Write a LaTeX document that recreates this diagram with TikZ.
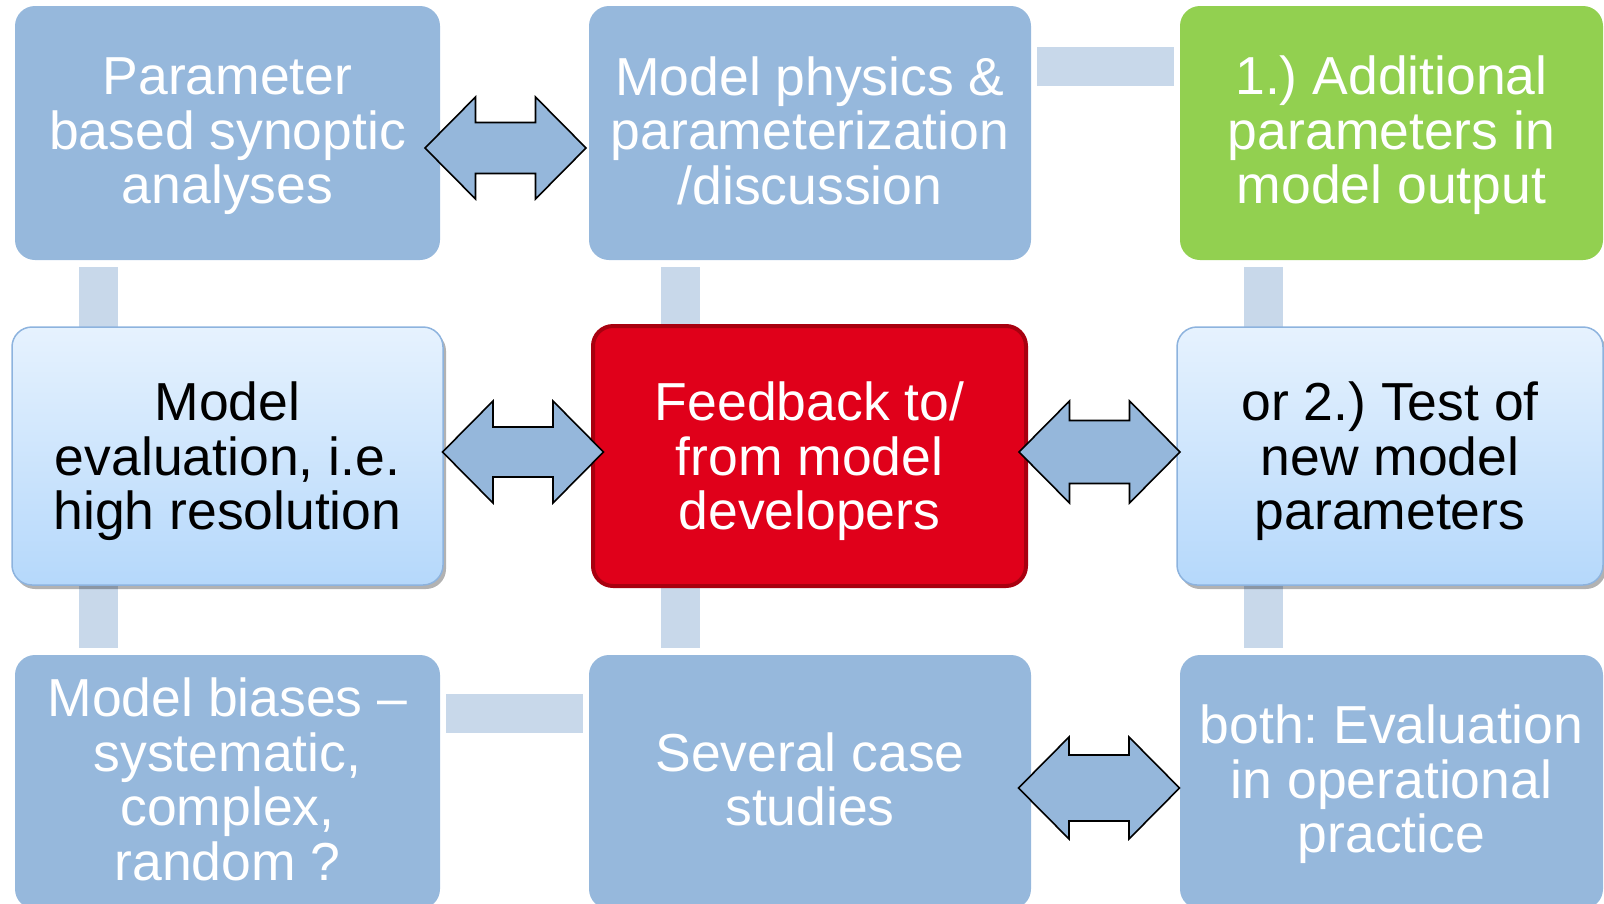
\documentclass[tikz,border=0pt]{standalone}
\usepackage{fontspec}
\setmainfont{Liberation Sans}
\usetikzlibrary{calc,shadows}
\definecolor{boxblue}{HTML}{96B8DC}
\definecolor{barblue}{HTML}{C8D8EA}
\definecolor{arrblue}{HTML}{95B7DB}
\definecolor{boxgreen}{HTML}{92D050}
\definecolor{boxred}{HTML}{E0001A}
\definecolor{redborder}{HTML}{A8000F}
\definecolor{lighttop}{HTML}{E6F2FE}
\definecolor{lightbot}{HTML}{B5D8FB}
\definecolor{lightborder}{HTML}{8DB3DE}
\pgfdeclarelayer{background}
\pgfsetlayers{background,main}
\frenchspacing
\newcommand\ts{\rule{0pt}{44pt}}
\newcommand\tsm{\rule{0pt}{50pt}}
\newcommand\bs{\rule[-11pt]{0pt}{11pt}}
\newcommand\dblarrow[2]{%
 \draw[dbl] ($(#1)+(-80.5,0)$) -- ($(#1)+(-30,-51)$) -- ($(#1)+(-30,-#2)$) -- ($(#1)+(30,-#2)$) -- ($(#1)+(30,-51)$) -- ($(#1)+(80.5,0)$) -- ($(#1)+(30,51)$) -- ($(#1)+(30,#2)$) -- ($(#1)+(-30,#2)$) -- ($(#1)+(-30,51)$) -- cycle;}
\begin{document}
\begin{tikzpicture}[x=1pt,y=-1pt,
 boxbase/.style={rounded corners=20pt, minimum height=254pt, inner sep=0pt, outer sep=0pt, align=center, font=\fontsize{53.5}{54.5}\selectfont\frenchspacing},
 bluebox/.style={boxbase, fill=boxblue, text=white},
 greenbox/.style={boxbase, fill=boxgreen, text=white},
 lightbox/.style={boxbase, minimum height=258pt, top color=lighttop, bottom color=lightbot, draw=lightborder, line width=1.5pt, text=black, drop shadow={shadow xshift=3pt, shadow yshift=-4pt, opacity=0.3, fill=black}},
 redbox/.style={boxbase, minimum height=260pt, fill=boxred, draw=redborder, line width=4pt, text=white},
 bar/.style={draw=barblue, line width=39pt},
 dbl/.style={fill=arrblue, draw=black, line width=1.6pt, line join=miter}
]
\useasboundingbox (0,0) rectangle (1604,903);
\clip (0,0) rectangle (1604,903);

\node[bluebox, minimum width=425pt] (A) at (227.5,133) {\ts Parameter\\based synoptic\\analyses\bs};
\node[bluebox, minimum width=442pt] (B) at (810,133) {\ts Model physics \&\\parameterization\\/discussion\bs};
\node[greenbox, minimum width=423pt] (C) at (1391.5,133) {\ts 1.) Additional\\parameters in\\model output\bs};
\node[lightbox, minimum width=431pt] (D) at (227.5,456) {\tsm Model\\evaluation, i.e.\\high resolution\bs};
\node[redbox, minimum width=433pt] (E) at (809.5,456) {\tsm Feedback to/\\from model\\developers\bs};
\node[lightbox, minimum width=426pt] (F) at (1390,456) {\tsm or 2.) Test of\\new model\\parameters\bs};
\node[bluebox, minimum width=425pt] (G) at (227.5,782) {\ts Model biases \textendash\\systematic,\\complex,\\random ?\bs};
\node[bluebox, minimum width=442pt] (H) at (810,782) {\ts Several case\\studies\bs};
\node[bluebox, minimum width=423pt] (I) at (1391.5,782) {\ts both: Evaluation\\in operational\\practice\bs};

\coordinate (colL) at (98.5,0);
\coordinate (colM) at (680.5,0);
\coordinate (colR) at (1263.5,0);
\coordinate (rowT) at (0,66.5);
\coordinate (rowB) at (0,713.5);

\begin{pgfonlayer}{background}
\draw[bar] ($(A.south -| colL)+(0,7)$) -- (D.north -| colL);
\draw[bar] (D.south -| colL) -- ($(G.north -| colL)+(0,-7)$);
\draw[bar] ($(B.south -| colM)+(0,7)$) -- (E.north -| colM);
\draw[bar] (E.south -| colM) -- ($(H.north -| colM)+(0,-7)$);
\draw[bar] ($(C.south -| colR)+(0,7)$) -- (F.north -| colR);
\draw[bar] (F.south -| colR) -- ($(I.north -| colR)+(0,-7)$);
\draw[bar] ($(B.east |- rowT)+(6,0)$) -- ($(C.west |- rowT)+(-6,0)$);
\draw[bar] ($(G.east |- rowB)+(6,0)$) -- ($(H.west |- rowB)+(-6,0)$);
\end{pgfonlayer}

\coordinate (ab) at ($(A.east)!0.5!(B.west)+(-9,15)$);
\coordinate (de) at ($(D.east)!0.5!(E.west)+(5,-4)$);
\coordinate (ef) at ($(E.east)!0.5!(F.west)+(-2,-4)$);
\coordinate (hi) at ($(H.east)!0.5!(I.west)+(-6.5,6)$);
\dblarrow{ab}{25.5}
\dblarrow{de}{25}
\dblarrow{ef}{31.5}
\dblarrow{hi}{33}
\end{tikzpicture}
\end{document}
